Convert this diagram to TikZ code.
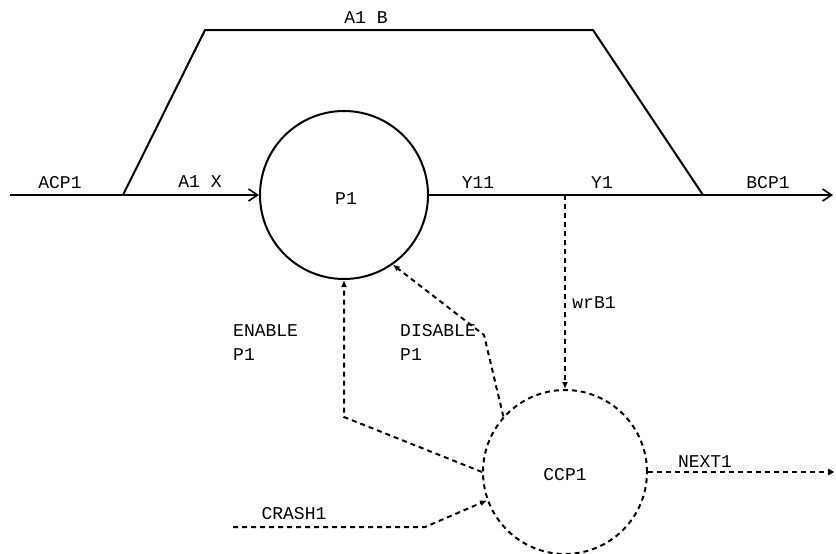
\documentclass[tikz,border=0pt]{standalone}
\usepackage{fontspec}
\setmainfont{Liberation Mono}
\usetikzlibrary{arrows.meta}
\tikzset{
  solidline/.style={line width=2pt},
  dashline/.style={line width=2pt, dash pattern=on 5pt off 4pt},
  openarrow/.style={-{Straight Barb[length=9pt,width=12pt,line width=1.6pt]}},
  filledarrow/.style={-{Latex[length=7pt,width=6pt]}},
  lbl/.style={inner sep=0pt, font=\fontsize{18}{22}\selectfont},
  proc/.style={circle, draw, inner sep=0pt}
}
\begin{document}
\begin{tikzpicture}[x=1pt,y=-1pt]
\useasboundingbox (0,0) rectangle (836,554);
% process circles
\node[proc, solidline, minimum size=168pt] (p1) at (344,195) {};
\node[proc, dashline, minimum size=164pt] (ccp) at (565,472) {};
% coordinates
\coordinate (start) at (10,195);
\coordinate (jl) at (123,195);
\coordinate (tl) at (205,30);
\coordinate (tr) at (593,30);
\coordinate (jr) at (703,195);
\coordinate (end) at (833,195);
\coordinate (w) at (565,195);
\coordinate (e1) at (344,417);
\coordinate (d1) at (484,335);
\coordinate (c0) at (233,527);
\coordinate (c1) at (425,527);
\coordinate (nend) at (834,472);
% solid flows
\draw[solidline, openarrow] (start) -- (p1.west);
\draw[solidline, line join=miter] (jl) -- (tl) -- (tr) -- (jr);
\draw[solidline, openarrow] (p1.east) -- (end);
% dashed control flows
\draw[dashline, filledarrow] (w) -- (ccp.north);
\draw[dashline, filledarrow] (ccp.west) -- (e1) -- (p1.south);
\draw[dashline, filledarrow] (ccp.138) -- (d1) -- (p1.-55);
\draw[dashline, filledarrow] (c0) -- (c1) -- (ccp.200);
\draw[dashline, -{Straight Barb[length=4pt,width=5pt]}] (ccp.east) -- (nend);
% labels
\node[lbl] (lab) at (366,18) {A1 B};
\node[lbl] (lax) at (200,182) {A1 X};
\node[lbl] (lacp) at (60,183) {ACP1};
\node[lbl] (lp1) at (346,199) {P1};
\node[lbl] (ly11) at (478,183) {Y11};
\node[lbl] (ly1) at (602,183) {Y1};
\node[lbl] (lbcp) at (768,183) {BCP1};
\node[lbl] (lwr) at (594,303) {wrB1};
\node[lbl, anchor=west] (len1) at (233,331) {ENABLE};
\node[lbl, anchor=west] (len2) at (233,355) {P1};
\node[lbl, anchor=west] (ldis1) at (400,331) {DISABLE};
\node[lbl, anchor=west] (ldis2) at (400,355) {P1};
\node[lbl] (lccp) at (565,475) {CCP1};
\node[lbl] (lcr) at (294,514) {CRASH1};
\node[lbl] (lnx) at (705,462) {NEXT1};
\end{tikzpicture}
\end{document}
